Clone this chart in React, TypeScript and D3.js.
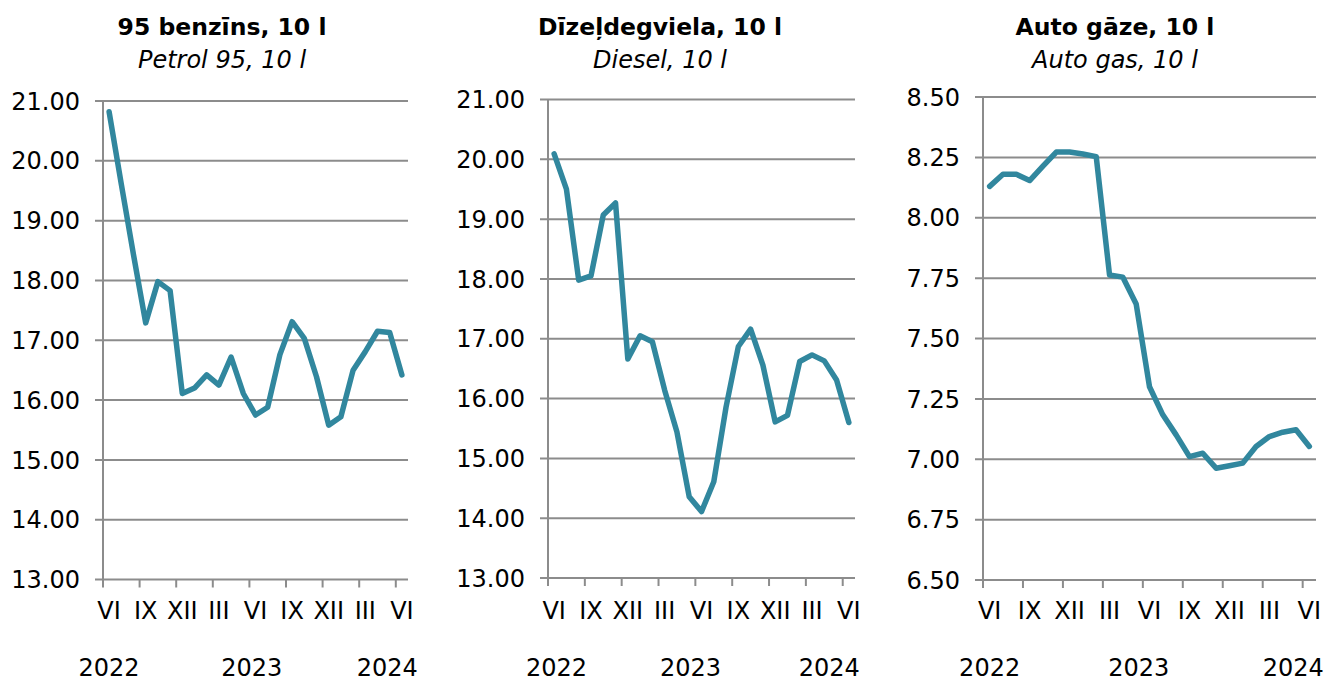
import React from 'react';
import * as d3 from 'd3';

// monthly, VI 2022 .. VI 2024
const months = d3.range(25);
const monthLabels = ['VI', 'IX', 'XII', 'III', 'VI', 'IX', 'XII', 'III', 'VI'];
const yearLabels = ['2022', '2023', '2024'];

const petrol95 = [
  20.82, 19.61, 18.43, 17.29, 17.98, 17.83, 16.11, 16.2, 16.42, 16.25, 16.72, 16.11, 15.75,
  15.88, 16.76, 17.31, 17.03, 16.39, 15.58, 15.72, 16.5, 16.81, 17.15, 17.13, 16.42,
];
const diesel = [
  20.09, 19.5, 17.98, 18.05, 19.07, 19.27, 16.66, 17.05, 16.95, 16.14, 15.44, 14.36, 14.11,
  14.61, 15.86, 16.87, 17.16, 16.56, 15.61, 15.72, 16.62, 16.73, 16.63, 16.31, 15.6,
];
const autoGas = [
  8.13, 8.18, 8.18, 8.154, 8.214, 8.272, 8.272, 8.264, 8.253, 7.763, 7.754, 7.643, 7.3,
  7.184, 7.101, 7.011, 7.025, 6.963, 6.973, 6.984, 7.053, 7.094, 7.112, 7.122, 7.053,
];

const petrolTicks = [13, 14, 15, 16, 17, 18, 19, 20, 21];
const dieselTicks = [13, 14, 15, 16, 17, 18, 19, 20, 21];
const gasTicks = [6.5, 6.75, 7, 7.25, 7.5, 7.75, 8, 8.25, 8.5];

const LINE = '#31879e';
const GRID = '#8c8c8c';
const FONT = '"DejaVu Sans", Verdana, sans-serif';

type PanelProps = {
  title: string;
  subtitle: string;
  values: number[];
  ticks: number[];
  left: number;
  right: number;
  top: number;
  bottom: number;
  titleX: number;
  yearPos: number[];
};

const Panel = ({ title, subtitle, values, ticks, left, right, top, bottom, titleX, yearPos }: PanelProps) => {
  const x = d3.scaleBand<number>().domain(months).range([left, right]).paddingInner(0).paddingOuter(0);
  const y = d3.scaleLinear().domain([ticks[0], ticks[ticks.length - 1]]).range([bottom, top]);
  const cx = (i: number) => (x(i) as number) + x.bandwidth() / 2;

  const line = d3.line<number>()
    .x((_, i) => cx(i))
    .y(d => y(d))
    .curve(d3.curveLinear);

  const tickMonths = months.filter(m => m % 3 === 0);

  return (
    <g fontFamily={FONT}>
      <text x={titleX} y={35} textAnchor="middle" fontWeight="bold" fontSize={23.5} fill="#000">{title}</text>
      <text x={titleX} y={68} textAnchor="middle" fontStyle="italic" fontSize={24} fill="#000">{subtitle}</text>

      {ticks.map(t => (
        <g key={t}>
          <line x1={left - 8} x2={right} y1={y(t)} y2={y(t)} stroke={GRID} strokeWidth={2} />
          <text x={left - 23} y={y(t)} dy="0.36em" textAnchor="end" fontSize={24} fill="#000">
            {t.toFixed(2)}
          </text>
        </g>
      ))}
      <line x1={left} x2={left} y1={top} y2={bottom} stroke={GRID} strokeWidth={2} />

      {tickMonths.map((m, k) => (
        <g key={m}>
          <line x1={x(m)} x2={x(m)} y1={bottom} y2={bottom + 8} stroke={GRID} strokeWidth={2} />
          <text x={cx(m)} y={619} textAnchor="middle" fontSize={24} fill="#000">{monthLabels[k]}</text>
        </g>
      ))}

      {yearLabels.map((yl, k) => (
        <text key={yl} x={left + x.bandwidth() * (yearPos[k] + 0.5)} y={676} textAnchor="middle" fontSize={24} fill="#000">
          {yl}
        </text>
      ))}

      <path d={line(values) as string} fill="none" stroke={LINE} strokeWidth={5.5} strokeLinejoin="round" strokeLinecap="round" />
    </g>
  );
};

export default function App() {
  return (
    <svg width={1325} height={682} style={{ position: 'absolute', left: 0, top: 0, background: '#fff' }}>
      <rect width={1325} height={682} fill="#fff" />
      <Panel title="95 benzīns, 10 l" subtitle="Petrol 95, 10 l" values={petrol95} ticks={petrolTicks}
        left={103} right={408} top={101} bottom={579.5} titleX={222} yearPos={[0, 11.7, 22.8]} />
      <Panel title="Dīzeļdegviela, 10 l" subtitle="Diesel, 10 l" values={diesel} ticks={dieselTicks}
        left={548} right={855} top={99.5} bottom={578} titleX={660} yearPos={[0.2, 11.1, 22.4]} />
      <Panel title="Auto gāze, 10 l" subtitle="Auto gas, 10 l" values={autoGas} ticks={gasTicks}
        left={983} right={1316} top={97} bottom={580} titleX={1115} yearPos={[0, 11.2, 22.8]} />
    </svg>
  );
}
